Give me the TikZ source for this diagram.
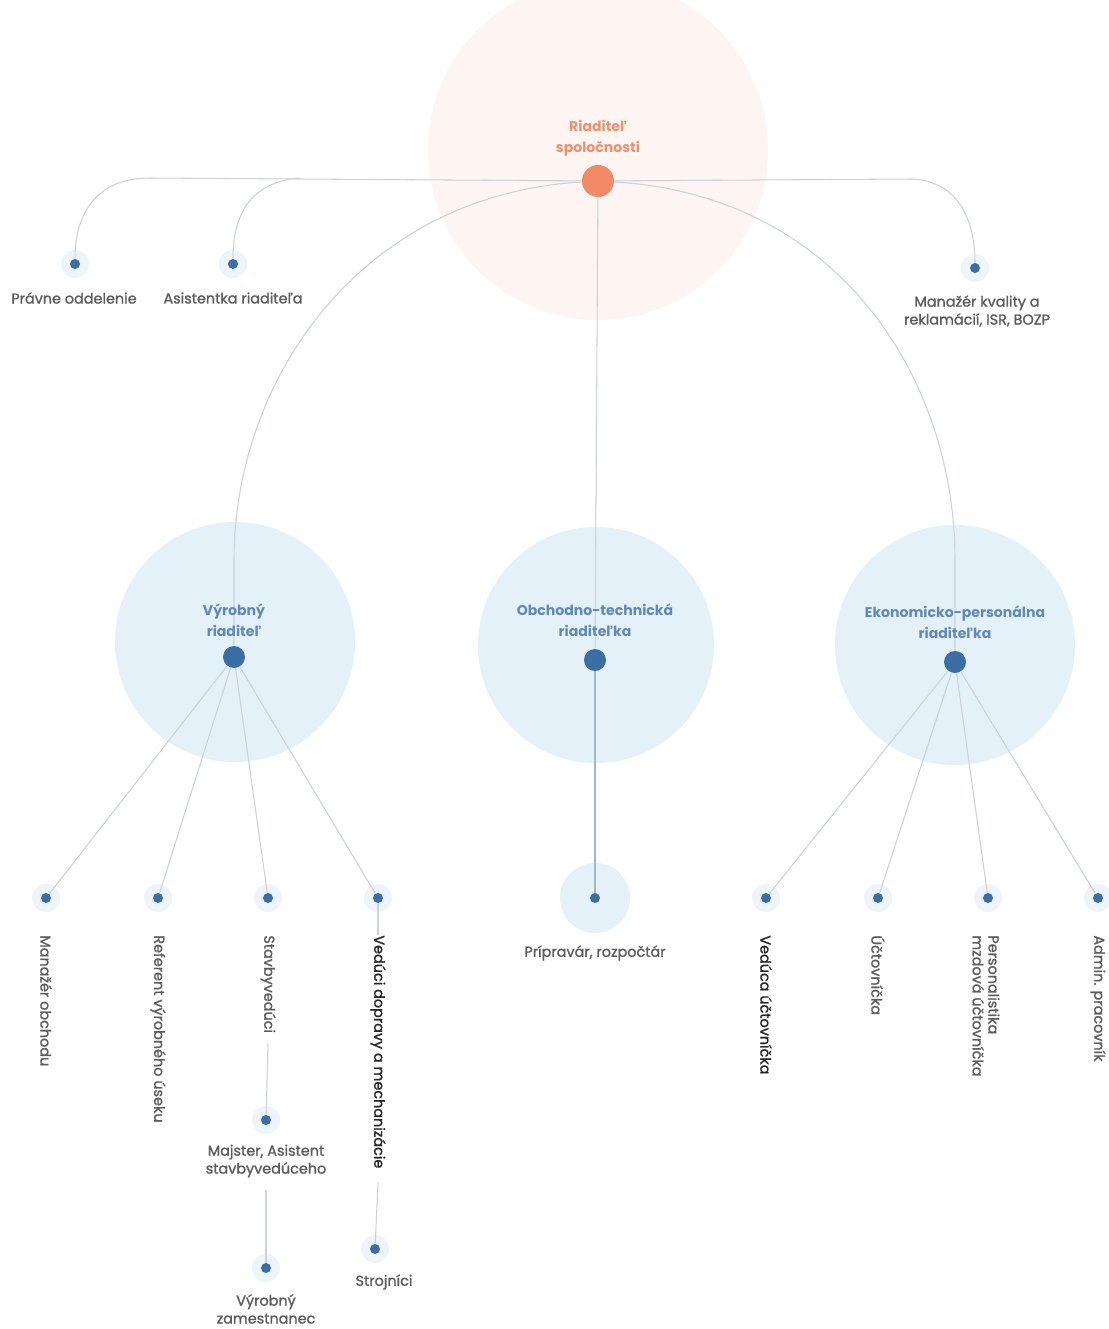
\documentclass[tikz,border=0pt]{standalone}
\usepackage{fontspec}
\setmainfont{Poppins}
\newfontfamily\medfont{Poppins}[FakeBold=1.2]
\definecolor{peach}{HTML}{FDF5F1}
\definecolor{orangeC}{HTML}{F28A68}
\definecolor{orangeT}{HTML}{EE9070}
\definecolor{paleblue}{HTML}{E5F1F8}
\definecolor{dotblue}{HTML}{3A6EA5}
\definecolor{txtblue}{HTML}{5F89B7}
\definecolor{txtgray}{HTML}{5C5C5C}
\definecolor{txtdark}{HTML}{262626}
\definecolor{lineC}{HTML}{CCD2D8}
\definecolor{haloC}{HTML}{EDF5FA}
\pgfdeclarelayer{back}
\pgfdeclarelayer{mid}
\pgfsetlayers{back,mid,main}
\begin{document}
\begin{tikzpicture}[x=0.02cm,y=-0.02cm,
  odot/.style={circle,fill=orangeC,minimum size=0.64cm,inner sep=0pt},
  bdot/.style={circle,fill=dotblue,minimum size=0.44cm,inner sep=0pt},
  sdot/.style={circle,fill=dotblue,minimum size=0.2cm,inner sep=0pt},
  halo/.style={fill=haloC},
  ttl/.style={font=\fontsize{8}{12}\selectfont\bfseries,align=center,inner sep=0pt},
  lbl/.style={font=\medfont\fontsize{8.2}{10.2}\selectfont,text=txtgray,align=center,inner sep=0pt},
  vlbl/.style={lbl,rotate=-90,anchor=west,align=left},
  conn/.style={draw=lineC,line width=0.6pt}]
\clip (0,0) rectangle (1109,1329);
% backgrounds
\begin{pgfonlayer}{back}
\fill[white] (0,0) rectangle (1109,1329);
\fill[peach] (598,150) circle[radius=170];
\fill[paleblue] (235,642) circle[radius=120];
\fill[paleblue] (596,645) circle[radius=118];
\fill[paleblue] (955,645) circle[radius=120];
\fill[paleblue] (595,898) circle[radius=35];
\foreach \p in {(75,264),(233,264),(975,268),(46,898),(158,898),(268,898),(378,898),(766,898),(878,898),(988,898),(1098,898),(266,1120),(266,1268),(375,1249)}
  \fill[halo] \p circle[radius=14];
\end{pgfonlayer}
% top level
\node[odot] (ceo) at (598,181) {};
\node[ttl,text=orangeT] (ceoL) at (598,138) {Riaditeľ\\spoločnosti};
\node[sdot] (prav) at (75,264) {};
\node[lbl] (pravL) at (74,298) {Právne oddelenie};
\node[sdot] (asis) at (233,264) {};
\node[lbl] (asisL) at (233,298) {Asistentka riaditeľa};
\node[sdot] (kval) at (975,268) {};
\node[lbl] (kvalL) at (977,311) {Manažér kvality a\\reklamácií, ISR, BOZP};
% second level
\node[bdot] (vyr) at (234,657) {};
\node[ttl,text=txtblue] (vyrL) at (234,620) {Výrobný\\riaditeľ};
\node[bdot] (obch) at (595,660) {};
\node[ttl,text=txtblue] (obchL) at (595,620) {Obchodno-technická\\riaditeľka};
\node[bdot] (eko) at (955,662) {};
\node[ttl,text=txtblue] (ekoL) at (955,622) {Ekonomicko-personálna\\riaditeľka};
% third level
\node[sdot] (d1) at (46,898) {};
\node[sdot] (d2) at (158,898) {};
\node[sdot] (d3) at (268,898) {};
\node[sdot] (d4) at (378,898) {};
\node[sdot] (d5) at (595,898) {};
\node[sdot] (d6) at (766,898) {};
\node[sdot] (d7) at (878,898) {};
\node[sdot] (d8) at (988,898) {};
\node[sdot] (d9) at (1098,898) {};
\node[vlbl] (l1) at (46,935) {Manažér obchodu};
\node[vlbl] (l2) at (158,935) {Referent výrobného úseku};
\node[vlbl] (l3) at (268,935) {Stavbyvedúci};
\node[vlbl,text=txtdark] (l4) at (378,935) {Vedúci dopravy a mechanizácie};
\node[lbl] (l5) at (595,953) {Prípravár, rozpočtár};
\node[vlbl,text=txtdark] (l6) at (766,935) {Vedúca účtovníčka};
\node[vlbl] (l7) at (878,935) {Účtovníčka};
\node[vlbl,font=\medfont\fontsize{8.2}{9}\selectfont] (l8) at (986,935) {Personalistika\\mzdová účtovníčka};
\node[vlbl] (l9) at (1098,935) {Admin. pracovník};
% fourth level
\node[sdot] (maj) at (266,1120) {};
\node[lbl] (majL) at (266,1161) {Majster, Asistent\\stavbyvedúceho};
\node[sdot] (zam) at (266,1268) {};
\node[lbl] (zamL) at (266,1309) {Výrobný\\zamestnanec};
\node[sdot] (stroj) at (375,1249) {};
\node[lbl] (strojL) at (384,1282) {Strojníci};
\coordinate (tl) at (150,178);
\coordinate (tl2) at (300,178);
\coordinate (tr) at (912,179);
% connectors
\begin{pgfonlayer}{mid}
\draw[conn] (ceo) -- (tl) .. controls (95,178) and (75,215) .. (prav);
\draw[conn] (tl2) .. controls (250,182) and (233,215) .. (asis);
\draw[conn] (ceo) -- (tr) .. controls (958,181) and (975,220) .. (kval);
\draw[conn] (ceo) .. controls (360,195) and (234,380) .. (234,560) -- (vyr);
\draw[conn] (ceo) .. controls (840,195) and (955,380) .. (955,560) -- (eko);
\draw[conn] (ceo) -- (obch);
\foreach \d in {d1,d2,d3,d4} \draw[conn] (vyr) -- (\d);
\foreach \d in {d6,d7,d8,d9} \draw[conn] (eko) -- (\d);
\draw[conn,draw=txtblue!60] (obch) -- (d5);
\draw[conn] (d4) -- (l4.west);
\draw[conn] (l3.east) ++(0,10) -- (maj);
\draw[conn] (majL.south) ++(0,12) -- (zam);
\draw[conn] (l4.east) ++(0,14) -- (stroj);
\end{pgfonlayer}
\end{tikzpicture}
\end{document}
